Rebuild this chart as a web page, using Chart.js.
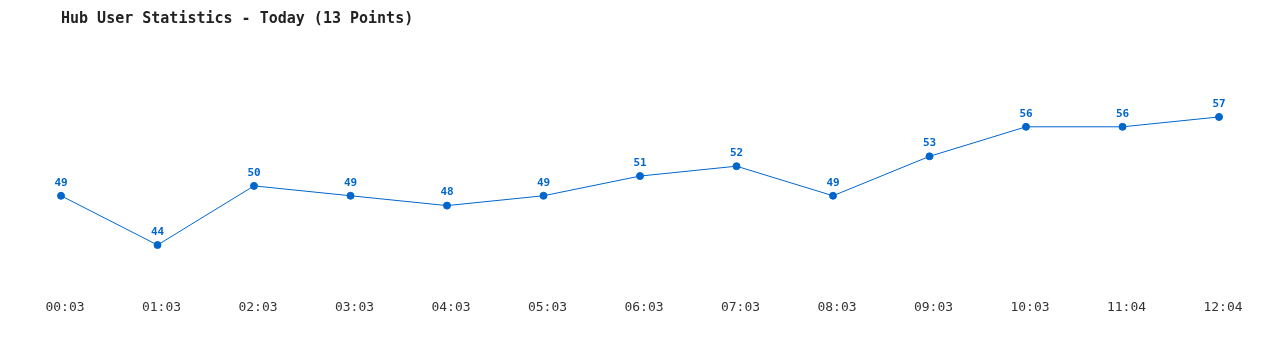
<!DOCTYPE html>
<html>
<head>
<meta charset="utf-8">
<script src="https://cdn.jsdelivr.net/npm/chart.js@4"></script>
<style>
  html, body { margin: 0; padding: 0; background: #fff; }
  #wrap { width: 1280px; height: 350px; }
</style>
</head>
<body>
<div id="wrap"><canvas id="hubChart" width="1280" height="350"></canvas></div>
<script>
    const timeLabels = ['00:03', '01:03', '02:03', '03:03', '04:03', '05:03', '06:03',
                        '07:03', '08:03', '09:03', '10:03', '11:04', '12:04'];
    const userCounts = [49, 44, 50, 49, 48, 49, 51, 52, 49, 53, 56, 56, 57];

    const lineColor = '#0066cc';
    const monoFont = "'DejaVu Sans Mono', 'Liberation Mono', monospace";

    // Draw the value above each point
    const valueLabels = {
      id: 'valueLabels',
      afterDatasetsDraw(chart) {
        const ctx = chart.ctx;
        ctx.save();
        ctx.font = 'bold 11px ' + monoFont;
        ctx.fillStyle = lineColor;
        ctx.textAlign = 'center';
        ctx.textBaseline = 'middle';
        chart.getDatasetMeta(0).data.forEach((pt, i) => {
          ctx.fillText(chart.data.datasets[0].data[i], pt.x, pt.y - 13);
        });
        ctx.restore();
      }
    };

    const ctx = document.getElementById('hubChart').getContext('2d');

    new Chart(ctx, {
      type: 'line',
      data: {
        labels: timeLabels,
        datasets: [{
          label: 'Users',
          data: userCounts,
          borderColor: lineColor,
          backgroundColor: lineColor,
          borderWidth: 1,
          tension: 0,
          fill: false,
          pointRadius: 3.5,
          pointBackgroundColor: lineColor,
          pointBorderColor: lineColor
        }]
      },
      options: {
        responsive: false,
        animation: false,
        layout: { padding: { left: 61, right: 61, top: 0, bottom: 28 } },
        scales: {
          x: {
            offset: false,
            grid: { display: false },
            border: { display: false },
            ticks: {
              color: '#333',
              font: { family: monoFont, size: 13 },
              padding: 7,
              labelOffset: 4,
              maxRotation: 0,
              autoSkip: false
            }
          },
          y: {
            display: false,
            min: 40,
            max: 64
          }
        },
        plugins: {
          legend: { display: false },
          tooltip: { enabled: false },
          title: {
            display: true,
            text: 'Hub User Statistics - Today (13 Points)',
            align: 'start',
            color: '#222',
            font: { family: monoFont, size: 15, weight: 'bold' },
            padding: { top: 10, bottom: 20 }
          }
        }
      },
      plugins: [valueLabels]
    });
</script>
</body>
</html>
